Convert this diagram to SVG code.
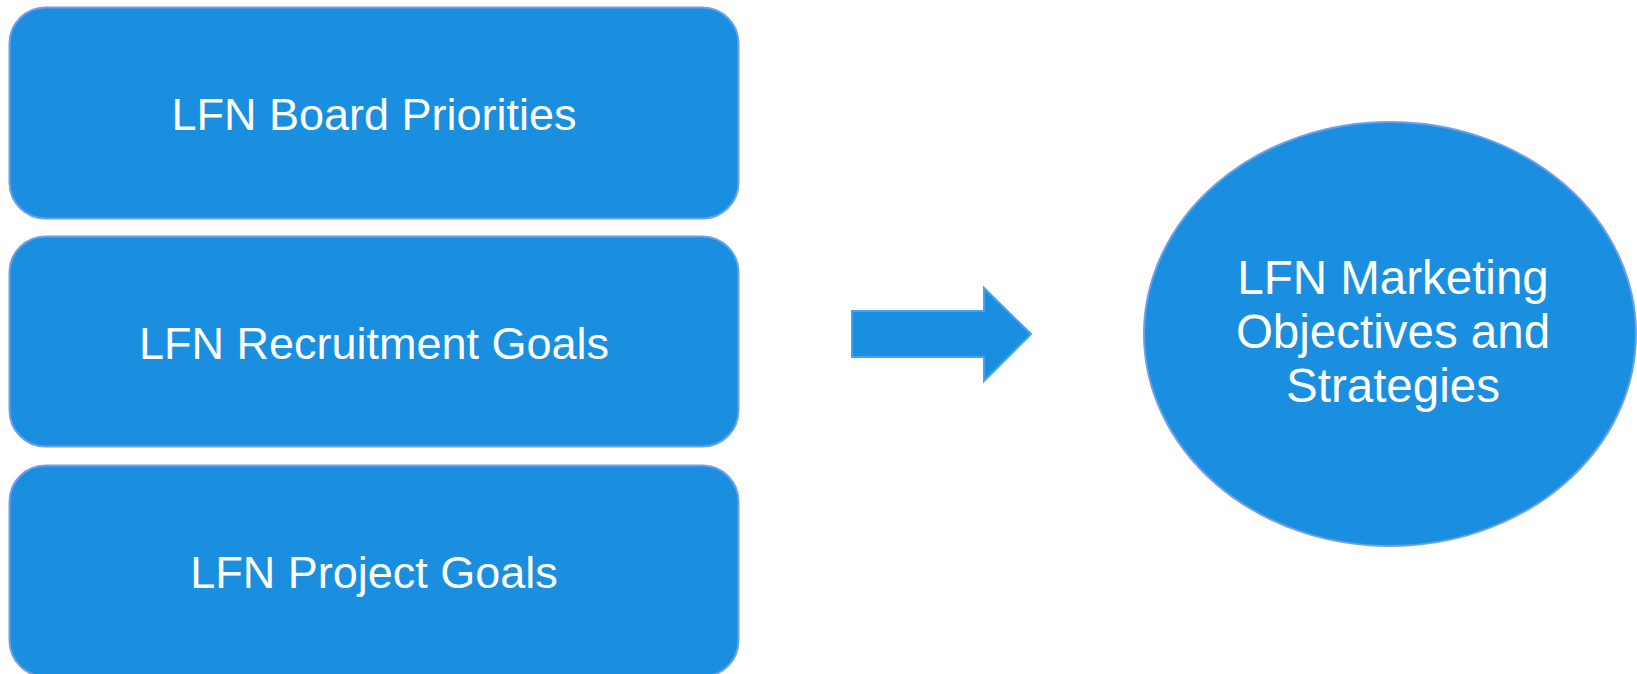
<svg xmlns="http://www.w3.org/2000/svg" width="1637" height="674" viewBox="0 0 1637 674">
<style>
.node{fill:#1a8fdf;stroke:#6f9feb;stroke-width:2}
.arrow{fill:#1a8fdf;stroke:#3fa3f6;stroke-width:2}
.lbl{font-family:"Liberation Sans",Arial,sans-serif;font-size:45px;fill:#ffffff;text-anchor:middle}
.big{font-size:47.5px}
</style>
<rect width="1637" height="674" fill="#ffffff"/>
<g id="board">
<rect class="node" x="9.5" y="7.5" width="729" height="211" rx="36" ry="36"/>
<text class="lbl" x="374" y="130">LFN Board Priorities</text>
</g>
<g id="recruitment">
<rect class="node" x="9.5" y="236.5" width="729" height="210" rx="36" ry="36"/>
<text class="lbl" x="374" y="359">LFN Recruitment Goals</text>
</g>
<g id="project">
<rect class="node" x="9.5" y="465.5" width="729" height="211" rx="36" ry="36"/>
<text class="lbl" x="374" y="588">LFN Project Goals</text>
</g>
<g id="connectors">
<polygon class="arrow" points="852,311 984,311 984,288 1031,334 984,381 984,357 852,357"/>
</g>
<g id="marketing">
<ellipse class="node" cx="1390" cy="334" rx="246" ry="212"/>
<text class="lbl big" x="1393" y="294">LFN Marketing</text>
<text class="lbl big" x="1393" y="348">Objectives and</text>
<text class="lbl big" x="1393" y="402">Strategies</text>
</g>
</svg>
